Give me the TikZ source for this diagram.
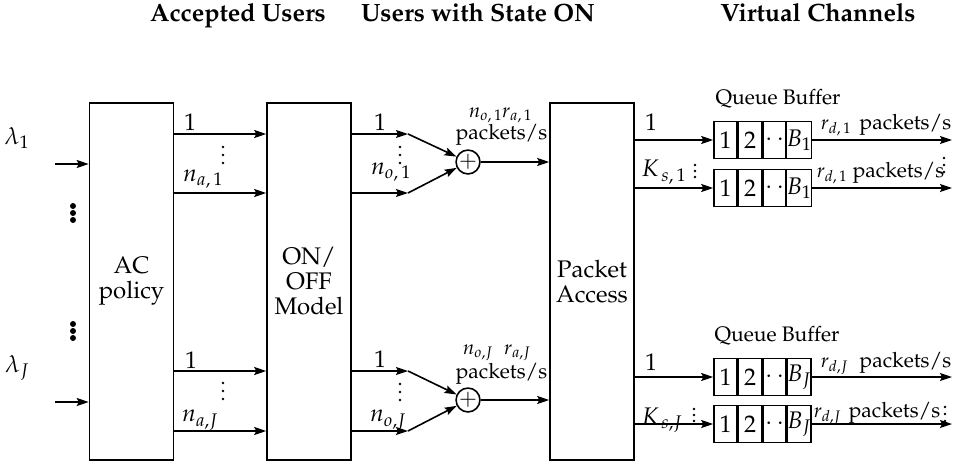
\documentclass[tikz,border=0pt]{standalone}
\usepackage[T1]{fontenc}
\usepackage{mathpazo}
\usetikzlibrary{arrows.meta,calc}
\begin{document}
\begin{tikzpicture}[x=1pt,y=-1pt,
  line width=1.6pt,
  font=\fontsize{24}{25}\selectfont,
  box/.style={draw, minimum width=84pt, minimum height=357pt, align=center, inner sep=0pt},
  arr/.style={-{Stealth[length=12pt,width=8pt,inset=2pt]}},
  lbl/.style={inner sep=0pt},
  smalltext/.style={font=\fontsize{21}{23}\selectfont, inner sep=0pt},
  tinytext/.style={font=\fontsize{20}{22}\selectfont, inner sep=0pt},
  head/.style={font=\fontsize{25}{27}\selectfont\bfseries, inner sep=0pt},
  adder/.style={draw, circle, minimum size=22pt, inner sep=0pt, font=\fontsize{22}{22}\selectfont},
  cell/.style={draw, minimum width=23pt, minimum height=37pt, inner sep=0pt},
]
\useasboundingbox (0,0) rectangle (960,463);

% headers
\node[head, anchor=base] (h1) at (238,21) {Accepted Users};
\node[head, anchor=base] (h2) at (478,21) {Users with State ON};
\node[head, anchor=base] (h3) at (818,21) {Virtual Channels};

% main boxes
\node[box] (ac) at (131.5,281.5) {AC\\policy};
\node[box] (oo) at (309,281.5) {ON/\\OFF\\Model};
\node[box] (pa) at (592,281.5) {Packet\\Access};

% inputs
\node[lbl] (l1) at (17,138) {$\lambda_1$};
\node[lbl] (lJ) at (17,368) {$\lambda_J$};
\coordinate (i1) at (55,164);
\coordinate (iJ) at (55,402);
\draw[arr] (i1) -- (i1 -| ac.west);
\draw[arr] (iJ) -- (iJ -| ac.west);
\foreach \yy in {206,213,220,324,331,338} \fill (73,\yy) circle (3pt);

% AC -> ON/OFF
\foreach \yy in {134,193,371,431} \draw[arr] (ac.east |- 0,\yy) -- (oo.west |- 0,\yy);
\node[lbl] (t1) at (190,122) {1};
\node[lbl] (t2) at (203,179) {$n_{a,\,1}$};
\node[lbl] (t3) at (191,360) {1};
\node[lbl] (t4) at (200,420) {$n_{a,J}$};
\foreach \yy in {147,155,163,383,391,399} \fill (223,\yy) circle (1.3pt);

% adders
\node[adder] (s1) at (468,162) {$+$};
\node[adder] (s2) at (468,400) {$+$};
\coordinate (k1) at (408,134);
\coordinate (k2) at (408,193);
\coordinate (k3) at (408,371);
\coordinate (k4) at (408,431);
\draw[arr] (oo.east |- k1) -- (k1);
\draw[arr] (oo.east |- k2) -- (k2);
\draw[arr] (oo.east |- k3) -- (k3);
\draw[arr] (oo.east |- k4) -- (k4);
\draw[arr] (k1) -- (s1);
\draw[arr] (k2) -- (s1);
\draw[arr] (k3) -- (s2);
\draw[arr] (k4) -- (s2);
\node[lbl] (u1) at (380,122) {1};
\node[lbl] (u2) at (391,172) {$n_{o,\,1}$};
\node[lbl] (u3) at (380,359) {1};
\node[lbl] (u4) at (388,420) {$n_{o,J}$};
\foreach \yy in {147,155,163,384,392,400} \fill (400,\yy) circle (1.3pt);

\node[tinytext, anchor=base west] (r1) at (468,117) {$n_{o,\,1}r_{a,\,1}$};
\node[smalltext, anchor=base west] (p1) at (455,139) {packets/s};
\node[tinytext, anchor=base west] (r2) at (462,354) {$n_{o,J}\;\;r_{a,J}$};
\node[smalltext, anchor=base west] (p2) at (455,378) {packets/s};

\draw[arr] (s1) -- (s1 -| pa.west);
\draw[arr] (s2) -- (s2 -| pa.west);

% queues
\foreach \r/\yy/\bb in {1/140/B_1, 2/188/B_1, 3/377/B_J, 4/424/B_J} {
  \node[cell] (c\r a) at (725.5,\yy) {1};
  \node[cell] (c\r b) at (750,\yy) {2};
  \node[cell] (c\r c) at (774.5,\yy) {$\cdot\,\cdot$};
  \node[cell] (c\r d) at (799,\yy) {$\bb$};
  \coordinate (o\r) at (952,\yy);
  \draw[arr] (pa.east |- c\r a.west) -- (c\r a.west);
  \draw[arr] (c\r d.east) -- (o\r);
}
\node[smalltext] (qb1) at (778,99) {Queue Buffer};
\node[smalltext] (qb2) at (777,336) {Queue Buffer};

\node[lbl] (v1) at (651,122) {1};
\node[lbl] (v2) at (664,172) {$K_{\,s,\,1}$};
\node[lbl] (v3) at (651,362) {1};
\node[lbl] (v4) at (662,420) {$K_{\,s,J}$};
\foreach \yy in {165,171,177} \fill (695,\yy) circle (1.3pt);
\foreach \yy in {409,415,421} \fill (694,\yy) circle (1.3pt);

% output labels
\node[tinytext, anchor=base west] (w1) at (820,129) {$r_{d,\,1}$};
\node[smalltext, anchor=base east] (x1) at (952,129) {packets/s};
\node[tinytext, anchor=base west] (w2) at (816,177) {$r_{d,\,1}$};
\node[smalltext, anchor=base west] (x2) at (852,177) {packets/s};
\node[tinytext, anchor=base west] (w3) at (820,367) {$r_{d,J}$};
\node[smalltext, anchor=base east] (x3) at (952,367) {packets/s};
\node[tinytext, anchor=base west] (w4) at (813,417) {$r_{d,J}$};
\node[smalltext, anchor=base west] (x4) at (848,417) {packets/s};
\foreach \yy in {158,165,172} \fill (944,\yy) circle (1.3pt);
\foreach \yy in {407,414,421} \fill (945,\yy) circle (1.3pt);
\end{tikzpicture}
\end{document}
